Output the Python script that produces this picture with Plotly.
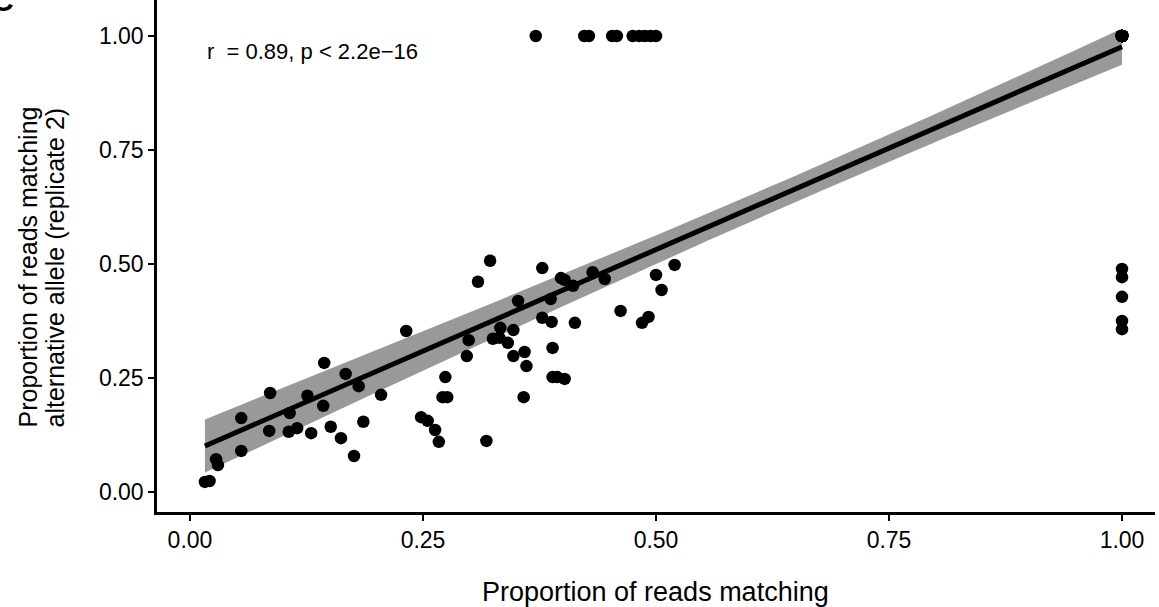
import numpy as np
import plotly.graph_objects as go

# replicate 1 (x) and replicate 2 (y) proportions of reads matching alternative allele
rep1 = [0.016, 0.021, 0.028, 0.030, 0.055, 0.055, 0.086, 0.085, 0.107, 0.106,
        0.115, 0.126, 0.130, 0.143, 0.144, 0.151, 0.167, 0.162, 0.176, 0.181,
        0.186, 0.205, 0.232, 0.248, 0.255, 0.263, 0.267, 0.274, 0.271, 0.276,
        0.297, 0.299, 0.309, 0.318, 0.322, 0.325, 0.332, 0.333, 0.347, 0.341,
        0.347, 0.352, 0.359, 0.361, 0.358, 0.378, 0.378, 0.388, 0.387, 0.389,
        0.389, 0.394, 0.402, 0.398, 0.402, 0.411, 0.413, 0.432, 0.445, 0.462,
        0.485, 0.492, 0.500, 0.506, 0.520,
        0.371, 0.423, 0.428, 0.453, 0.458, 0.475, 0.482, 0.488, 0.494, 0.500,
        1.0, 1.0, 1.0, 1.0, 1.0]
rep2 = [0.022, 0.024, 0.072, 0.059, 0.162, 0.090, 0.217, 0.134, 0.173, 0.132,
        0.140, 0.211, 0.129, 0.189, 0.283, 0.143, 0.259, 0.118, 0.079, 0.232,
        0.154, 0.213, 0.353, 0.164, 0.156, 0.136, 0.110, 0.252, 0.208, 0.208,
        0.298, 0.333, 0.461, 0.112, 0.507, 0.336, 0.338, 0.360, 0.355, 0.327,
        0.298, 0.419, 0.307, 0.276, 0.208, 0.491, 0.382, 0.373, 0.423, 0.316,
        0.252, 0.252, 0.248, 0.469, 0.465, 0.452, 0.371, 0.482, 0.467, 0.397,
        0.371, 0.384, 0.476, 0.443, 0.498,
        1.0, 1.0, 1.0, 1.0, 1.0, 1.0, 1.0, 1.0, 1.0, 1.0,
        0.489, 0.471, 0.428, 0.375, 0.357]
# overlapping sites fixed for the alternative allele in both replicates (1, 1)
n_fixed_both = 72
rep1 = rep1 + [1.0] * n_fixed_both
rep2 = rep2 + [1.0] * n_fixed_both

tick_vals = [0.0, 0.25, 0.5, 0.75, 1.0]
tick_text = ["0.00", "0.25", "0.50", "0.75", "1.00"]
stat_label = "r  = 0.89, p < 2.2e\u221216"
x_title = "Proportion of reads matching"
y_title_lines = ["Proportion of reads matching", "alternative allele (replicate 2)"]

x = np.array(rep1)
y = np.array(rep2)
n = len(x)
slope, intercept = np.polyfit(x, y, 1)
xs = np.linspace(x.min(), x.max(), 100)
ys = intercept + slope * xs
resid = y - (intercept + slope * x)
s = np.sqrt(np.sum(resid ** 2) / (n - 2))
sxx = np.sum((x - x.mean()) ** 2)
tcrit = 1.98
se = s * np.sqrt(1.0 / n + (xs - x.mean()) ** 2 / sxx)
upper = ys + tcrit * se
lower = ys - tcrit * se

fig = go.Figure()
fig.add_trace(go.Scatter(x=np.concatenate([xs, xs[::-1]]),
                         y=np.concatenate([upper, lower[::-1]]),
                         fill="toself", fillcolor="#999999", line=dict(width=0),
                         mode="lines", hoverinfo="skip", showlegend=False))
fig.add_trace(go.Scatter(x=x, y=y, mode="markers",
                         marker=dict(color="black", size=12.5, line=dict(width=0)),
                         showlegend=False))
fig.add_trace(go.Scatter(x=xs, y=ys, mode="lines",
                         line=dict(color="black", width=5), showlegend=False))

FONT = "Liberation Sans"
fig.add_annotation(x=0.016, y=0.965, xref="x", yref="y", text=stat_label,
                   showarrow=False, xanchor="left", yanchor="middle",
                   font=dict(size=22, color="black", family=FONT))
fig.add_annotation(x=-0.167, y=0.963, xref="paper", yref="paper", text="<b>C</b>",
                   showarrow=False, xanchor="left", yanchor="bottom",
                   font=dict(size=30, color="black", family=FONT))
fig.add_annotation(x=0.499, y=-0.156, xref="paper", yref="paper", text=x_title,
                   showarrow=False, xanchor="center", yanchor="middle",
                   font=dict(size=27, color="black", family=FONT))
for xp, line in zip([-0.129, -0.102], y_title_lines):
    fig.add_annotation(x=xp, y=0.478, xref="paper", yref="paper", text=line,
                       textangle=-90, showarrow=False, xanchor="center", yanchor="middle",
                       font=dict(size=25, color="black", family=FONT))

axis_common = dict(showline=True, linecolor="black", linewidth=2.5, ticks="outside",
                   ticklen=6, tickwidth=1.5, tickcolor="black", showgrid=False,
                   zeroline=False, tickfont=dict(size=23, color="black", family=FONT))
fig.update_xaxes(range=[-0.0354, 1.0354], tickvals=tick_vals, ticktext=tick_text,
                 **axis_common)
fig.update_yaxes(range=[-0.0439, 1.0789], tickvals=tick_vals, ticktext=tick_text,
                 **axis_common)
fig.update_layout(width=1159, height=607, margin=dict(l=157, r=4, t=0, b=95),
                  plot_bgcolor="white", paper_bgcolor="white",
                  font=dict(family=FONT, color="black"))
fig.write_html("out.html")
